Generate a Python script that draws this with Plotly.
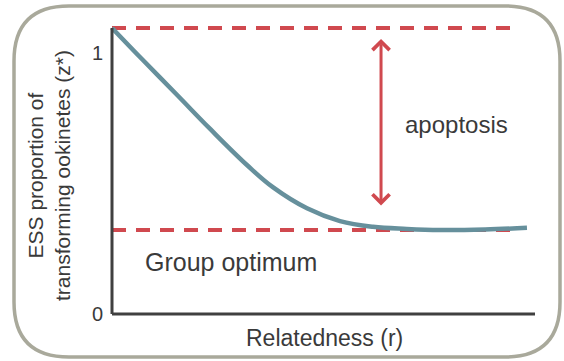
import plotly.graph_objects as go

# relatedness r vs ESS proportion of transforming ookinetes z*
relatedness = [0.0, 0.073, 0.154, 0.232, 0.319, 0.381, 0.461, 0.539, 0.617, 0.697, 0.775, 0.882, 0.981]
ess_z = [1.096, 0.973, 0.839, 0.709, 0.571, 0.485, 0.405, 0.356, 0.334, 0.326, 0.322, 0.324, 0.330]

z_individual = 1.096   # upper dashed level
z_group = 0.322        # group optimum
dash_end = 0.96
arrow_r = 0.636
arrow_top = 1.054
arrow_bottom = 0.41

y_ticks = [0, 1]
y_tick_text = ["0", "1"]

RED = "#d0494f"
CURVE = "#66909c"
TEXT = "#3a3a3a"
AXIS = "#404040"
FONT = "Liberation Sans, Arial, sans-serif"

W, H = 564, 361
L, R, T, B = 100, 545, 18, 324


def px(x, y):
    # pixel -> paper coords
    return (x - L) / (R - L), (B - y) / (B - T)


fig = go.Figure()

fig.add_trace(go.Scatter(x=[0, dash_end], y=[z_individual, z_individual], mode="lines",
                         line=dict(color=RED, width=4, dash="14px,10px"), hoverinfo="skip"))
fig.add_trace(go.Scatter(x=[0, dash_end], y=[z_group, z_group], mode="lines",
                         line=dict(color=RED, width=4, dash="14px,10px"), hoverinfo="skip"))
fig.add_trace(go.Scatter(x=relatedness, y=ess_z, mode="lines",
                         line=dict(color=CURVE, width=4.5, shape="spline", smoothing=1.1)))

# axis lines
fig.add_shape(type="line", x0=0, x1=0, y0=0, y1=z_individual, xref="x", yref="y",
              line=dict(color=AXIS, width=3))
fig.add_shape(type="line", x0=0, x1=1, y0=0, y1=0, xref="x", yref="y",
              line=dict(color=AXIS, width=3))

# rounded border
x0, y0 = px(14, 6)
x1, y1 = px(560, 357)
rx = 55 / (R - L)
ry = 55 / (B - T)
path = (f"M {x0 + rx},{y0} L {x1 - rx},{y0} Q {x1},{y0} {x1},{y0 - ry} "
        f"L {x1},{y1 + ry} Q {x1},{y1} {x1 - rx},{y1} "
        f"L {x0 + rx},{y1} Q {x0},{y1} {x0},{y1 + ry} "
        f"L {x0},{y0 - ry} Q {x0},{y0} {x0 + rx},{y0} Z")
fig.add_shape(type="path", path=path, xref="paper", yref="paper",
              line=dict(color="#a9a99b", width=3.5), layer="below")

# double arrow
fig.add_annotation(x=arrow_r, y=arrow_top, ax=arrow_r, ay=arrow_bottom, axref="x", ayref="y",
                   xref="x", yref="y", text="", showarrow=True, arrowside="end+start",
                   arrowhead=4, startarrowhead=4, arrowsize=1.1, startarrowsize=1.1,
                   arrowwidth=3, arrowcolor=RED, standoff=0, startstandoff=0)

for v, t in zip(y_ticks, y_tick_text):
    fig.add_annotation(x=0, y=v, xref="x", yref="y", text=t, showarrow=False,
                       xanchor="right", yanchor="middle", xshift=-7,
                       font=dict(size=20, color=TEXT, family=FONT))

ax_, ay_ = px(49, 176)
fig.add_annotation(x=ax_, y=ay_, xref="paper", yref="paper", textangle=-90,
                   xanchor="center", yanchor="middle",
                   text="ESS proportion of<br>transforming ookinetes (z*)", showarrow=False,
                   font=dict(size=21, color=TEXT, family=FONT))
gx, gy = px(143, 262)
fig.add_annotation(x=gx, y=gy, xref="paper", yref="paper", text="Group optimum",
                   showarrow=False, xanchor="left", yanchor="middle",
                   font=dict(size=25, color=TEXT, family=FONT))
axp, ayp = px(456, 124)
fig.add_annotation(x=axp, y=ayp, xref="paper", yref="paper", text="apoptosis",
                   showarrow=False, xanchor="center", yanchor="middle",
                   font=dict(size=24, color=TEXT, family=FONT))
rxp, ryp = px(324, 338)
fig.add_annotation(x=rxp, y=ryp, xref="paper", yref="paper", text="Relatedness (r)",
                   showarrow=False, xanchor="center", yanchor="middle",
                   font=dict(size=23, color=TEXT, family=FONT))

fig.update_xaxes(visible=False, range=[-12 / 423, 1 + 10 / 423])
fig.update_yaxes(visible=False, range=[-10 / 261, (314 - 18) / 261])

fig.update_layout(
    width=W, height=H,
    margin=dict(l=L, r=W - R, t=T, b=H - B),
    plot_bgcolor="white", paper_bgcolor="white",
    showlegend=False,
)

fig.write_html("out.html", config={"displayModeBar": False},
               post_script="document.body.style.margin='0';")
